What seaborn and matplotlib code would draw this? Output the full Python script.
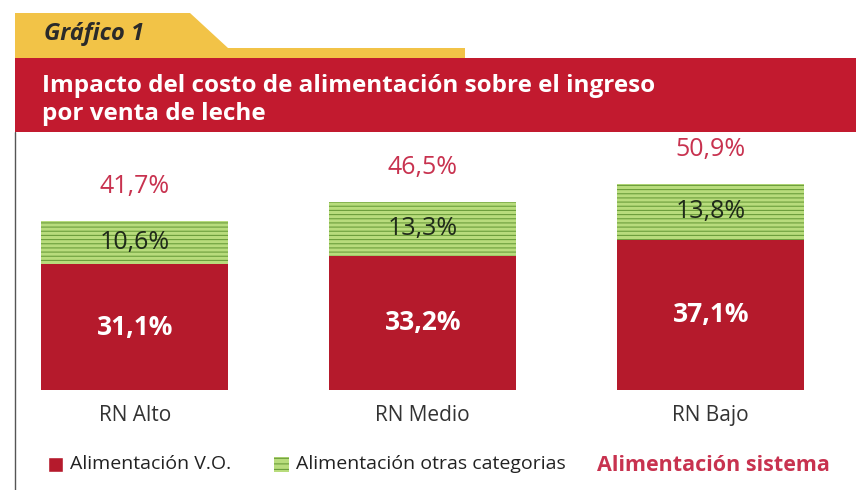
import pandas as pd
import matplotlib.pyplot as plt
from matplotlib.patches import Rectangle, Polygon
import seaborn as sns

# Chart data
categories = ["RN Alto", "RN Medio", "RN Bajo"]
alim_vo = [31.1, 33.2, 37.1]
alim_otras = [10.6, 13.3, 13.8]
alim_sistema = [41.7, 46.5, 50.9]

RED = "#b51a2c"
GREEN = "#b8dc7c"
GREEN_LINE = "#6c9e3c"
CRIMSON = "#c8324f"
YELLOW = "#f2c347"

df = pd.DataFrame({"grupo": categories, "vo": alim_vo,
                   "otras": alim_otras, "sistema": alim_sistema})

sns.set_style("white")
plt.rcParams["font.family"] = ["Open Sans", "DejaVu Sans"]
plt.rcParams["hatch.color"] = GREEN_LINE
plt.rcParams["hatch.linewidth"] = 0.8

W, H = 856, 490
fig = plt.figure(figsize=(W / 100, H / 100), dpi=100)
fig.patch.set_facecolor("white")

def fx(px):
    return px / W

def fy(py):
    return 1 - py / H

# header: yellow tab + red banner
tab = Polygon([(fx(15), fy(13)), (fx(190), fy(13)), (fx(228), fy(48)),
               (fx(465), fy(48)), (fx(465), fy(60)), (fx(15), fy(60))],
              closed=True, transform=fig.transFigure, facecolor=YELLOW,
              edgecolor="none")
fig.patches.append(tab)
fig.patches.append(Rectangle((fx(15), fy(132)), fx(W - 15), (132 - 58) / H,
                             transform=fig.transFigure, facecolor="#c21a2f",
                             edgecolor="none"))
fig.text(fx(44), fy(34), "Gráfico 1", fontsize=17, fontweight="bold",
         fontstyle="italic", color="#2a2a2a", va="center")
fig.text(fx(42), fy(100), "Impacto del costo de alimentación sobre el ingreso\npor venta de leche",
         fontsize=17.5, fontweight="bold", color="white", va="center",
         linespacing=1.2)
# left border
fig.add_artist(plt.Line2D([fx(15), fx(15)], [fy(132), 0], color="#555555",
                          lw=1.0, transform=fig.transFigure))

# bars
ax = fig.add_axes([0, fy(390), 1, (390 - 140) / H])
ax.set_facecolor("none")
sns.barplot(data=df, x="grupo", y="sistema", color=GREEN, width=0.65,
            saturation=1, ax=ax)
for p in ax.patches:
    p.set_hatch("----")
    p.set_edgecolor(GREEN_LINE)
    p.set_linewidth(0)
n_green = len(ax.patches)
sns.barplot(data=df, x="grupo", y="vo", color=RED, width=0.65,
            saturation=1, ax=ax)
for p in ax.patches[n_green:]:
    p.set_edgecolor("none")

ax.set_xlim(-134.7 / 288, (W - 134.7) / 288)
ax.set_ylim(0, 250 / 4.05)

for i, (v, o, s) in enumerate(zip(alim_vo, alim_otras, alim_sistema)):
    ax.text(i, v / 2, f"{v:.1f}%".replace(".", ","), ha="center", va="center",
            color="white", fontsize=19, fontweight="bold")
    ax.text(i, v + o / 2, f"{o:.1f}%".replace(".", ","), ha="center",
            va="center", color="#1f2a1a", fontsize=18)
    ax.text(i, s + 8.5, f"{s:.1f}%".replace(".", ","), ha="center",
            va="center", color=CRIMSON, fontsize=18)

ax.set_xlabel("")
ax.set_ylabel("")
ax.set_yticks([])
ax.tick_params(axis="x", length=0, pad=11, labelsize=15, labelcolor="#333333")
sns.despine(ax=ax, left=True, bottom=True)

# legend
fig.patches.append(Rectangle((fx(48), fy(472)), 15 / W, 15 / H,
                             transform=fig.transFigure, facecolor=RED))
fig.text(fx(70), fy(464), "Alimentación V.O.", fontsize=14, color="#222222",
         va="center")
fig.patches.append(Rectangle((fx(274), fy(472)), 15 / W, 15 / H,
                             transform=fig.transFigure, facecolor=GREEN,
                             hatch="---", edgecolor=GREEN_LINE, lw=0))
fig.text(fx(296), fy(464), "Alimentación otras categorias", fontsize=14,
         color="#222222", va="center")
fig.text(fx(597), fy(465), "Alimentación sistema", fontsize=15.5,
         fontweight="bold", color=CRIMSON, va="center")

fig.savefig("out.png", dpi=100)
